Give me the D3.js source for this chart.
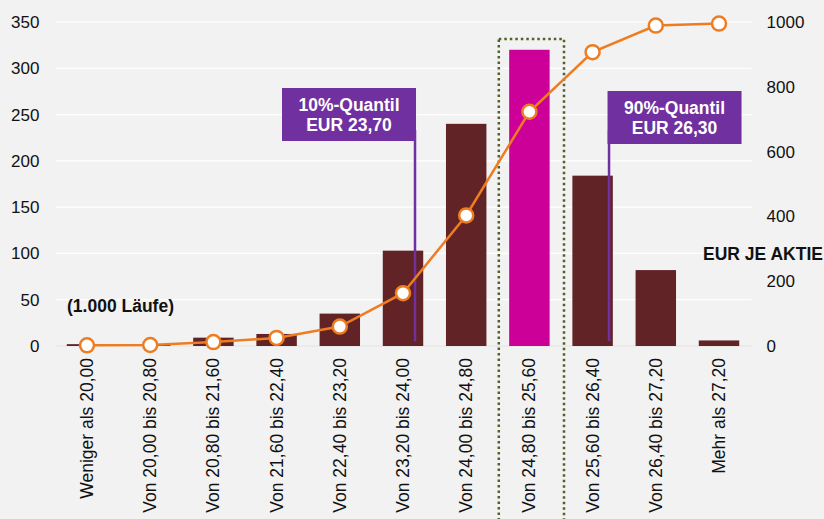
<!DOCTYPE html>
<html>
<head>
<meta charset="utf-8">
<script src="https://cdn.jsdelivr.net/npm/d3@7"></script>
<style>
  html, body { margin: 0; padding: 0; background: #f2f2f2; }
  svg { display: block; font-family: "Liberation Sans", Arial, sans-serif; }
</style>
</head>
<body>
<div id="chart"></div>
<script>
// Kursintervalle (EUR je Aktie)
const categories = [
  'Weniger als 20,00', 'Von 20,00 bis 20,80', 'Von 20,80 bis 21,60',
  'Von 21,60 bis 22,40', 'Von 22,40 bis 23,20', 'Von 23,20 bis 24,00',
  'Von 24,00 bis 24,80', 'Von 24,80 bis 25,60', 'Von 25,60 bis 26,40',
  'Von 26,40 bis 27,20', 'Mehr als 27,20'
];
// Häufigkeit je Intervall (linke Achse)
const counts = [2, 1, 9, 13, 35, 103, 240, 320, 184, 82, 6];
// Kumulierte Häufigkeit (rechte Achse)
const cumulative = [2, 3, 12, 25, 60, 163, 403, 723, 907, 989, 995];
const leftTicks = [0, 50, 100, 150, 200, 250, 300, 350];
const rightTicks = [0, 200, 400, 600, 800, 1000];
const highlightCategory = 'Von 24,80 bis 25,60';
// Quantil-Markierungen
const quantiles = [
  { cat: 'Von 23,20 bis 24,00', pos: 0.69, lines: ['10%-Quantil', 'EUR 23,70'], side: 'right' },
  { cat: 'Von 25,60 bis 26,40', pos: 0.76, lines: ['90%-Quantil', 'EUR 26,30'], side: 'left' }
];

const width = 824, height = 519;
const plot = { left: 55.4, right: 750.6, top: 22, bottom: 346 };
const fontSize = 17;

const svg = d3.select('#chart').append('svg')
  .attr('width', width)
  .attr('height', height);

svg.append('rect').attr('width', width).attr('height', height).attr('fill', '#f2f2f2');

const x = d3.scaleBand()
  .domain(categories)
  .range([plot.left, plot.right])
  .paddingInner(0.36)
  .paddingOuter(0.18);

const band = d3.scaleBand().domain(categories).range([plot.left, plot.right]);

const yLeft = d3.scaleLinear().domain([0, 350]).range([plot.bottom, plot.top]);
const yRight = d3.scaleLinear().domain([0, 1000]).range([plot.bottom, plot.top]);

// gridlines
svg.append('g')
  .selectAll('line')
  .data(leftTicks.filter(d => d > 0))
  .join('line')
  .attr('x1', plot.left)
  .attr('x2', plot.right + 1)
  .attr('y1', d => yLeft(d))
  .attr('y2', d => yLeft(d))
  .attr('stroke', '#ffffff')
  .attr('stroke-width', 1.2);

svg.append('line')
  .attr('x1', plot.left).attr('x2', plot.right + 1)
  .attr('y1', yLeft(0)).attr('y2', yLeft(0))
  .attr('stroke', '#e2e2e2').attr('stroke-width', 1.2);

// left axis
const leftAxis = svg.append('g')
  .attr('transform', `translate(${plot.left - 16},0)`)
  .call(d3.axisLeft(yLeft).tickValues(leftTicks).tickSize(0).tickPadding(0));
leftAxis.select('.domain').remove();
leftAxis.selectAll('text')
  .attr('font-size', fontSize)
  .attr('fill', '#111')
  .attr('font-family', '"Liberation Sans", Arial, sans-serif');

// right axis
const rightAxis = svg.append('g')
  .attr('transform', `translate(${plot.right + 16},0)`)
  .call(d3.axisRight(yRight).tickValues(rightTicks).tickFormat(d3.format('d')).tickSize(0).tickPadding(0));
rightAxis.select('.domain').remove();
rightAxis.selectAll('text')
  .attr('font-size', fontSize)
  .attr('fill', '#111')
  .attr('font-family', '"Liberation Sans", Arial, sans-serif');

// bars
svg.append('g')
  .selectAll('rect')
  .data(categories)
  .join('rect')
  .attr('x', d => x(d))
  .attr('width', x.bandwidth())
  .attr('y', (d, i) => yLeft(counts[i]))
  .attr('height', (d, i) => yLeft(0) - yLeft(counts[i]))
  .attr('fill', d => d === highlightCategory ? '#cc0099' : '#612326');

// dotted highlight frame
svg.append('rect')
  .attr('x', band(highlightCategory) + 1)
  .attr('y', 39)
  .attr('width', band.bandwidth() + 2)
  .attr('height', 500)
  .attr('fill', 'none')
  .attr('stroke', '#4f6228')
  .attr('stroke-width', 2.5)
  .attr('stroke-dasharray', '2.5,3');

// quantile lines
const qx = q => band(q.cat) + band.bandwidth() * q.pos;
svg.append('g')
  .selectAll('line')
  .data(quantiles)
  .join('line')
  .attr('x1', qx).attr('x2', qx)
  .attr('y1', 130)
  .attr('y2', yLeft(5))
  .attr('stroke', '#7030a0')
  .attr('stroke-width', 2.5);

// cumulative line
const line = d3.line()
  .x((d, i) => band(categories[i]) + band.bandwidth() / 2)
  .y(d => yRight(d));

svg.append('path')
  .datum(cumulative)
  .attr('d', line)
  .attr('fill', 'none')
  .attr('stroke', '#ee7d22')
  .attr('stroke-width', 2.5);

svg.append('g')
  .selectAll('circle')
  .data(cumulative)
  .join('circle')
  .attr('cx', (d, i) => band(categories[i]) + band.bandwidth() / 2)
  .attr('cy', d => yRight(d))
  .attr('r', 7)
  .attr('fill', '#ffffff')
  .attr('stroke', '#ee7d22')
  .attr('stroke-width', 2.5);

// quantile callout boxes
const boxW = 134, boxH = 53;
const callouts = svg.append('g')
  .selectAll('g')
  .data(quantiles)
  .join('g')
  .attr('transform', (d, i) => {
    const bx = d.side === 'right' ? qx(d) - boxW + 1 : qx(d) - 1.5;
    const by = i === 0 ? 88 : 91;
    return `translate(${bx},${by})`;
  });

callouts.append('rect')
  .attr('width', boxW)
  .attr('height', boxH)
  .attr('fill', '#7030a0');

callouts.append('text')
  .attr('text-anchor', 'middle')
  .attr('fill', '#ffffff')
  .attr('font-size', 17.5)
  .attr('font-weight', 'bold')
  .selectAll('tspan')
  .data(d => d.lines)
  .join('tspan')
  .attr('x', boxW / 2)
  .attr('y', (d, i) => 23 + i * 19.5)
  .text(d => d);

// category labels (rotated)
svg.append('g')
  .selectAll('text')
  .data(categories)
  .join('text')
  .attr('transform', d => `translate(${band(d) + band.bandwidth() / 2 + 6},358) rotate(-90)`)
  .attr('text-anchor', 'end')
  .attr('font-size', fontSize + 0.5)
  .attr('fill', '#111')
  .text(d => d);

// annotations
svg.append('text')
  .attr('x', 67)
  .attr('y', 312)
  .attr('font-size', 17.5)
  .attr('font-weight', 'bold')
  .attr('fill', '#111')
  .text('(1.000 Läufe)');

svg.append('text')
  .attr('x', 703)
  .attr('y', 260)
  .attr('font-size', 17.5)
  .attr('font-weight', 'bold')
  .attr('fill', '#111')
  .text('EUR JE AKTIE');
</script>
</body>
</html>
